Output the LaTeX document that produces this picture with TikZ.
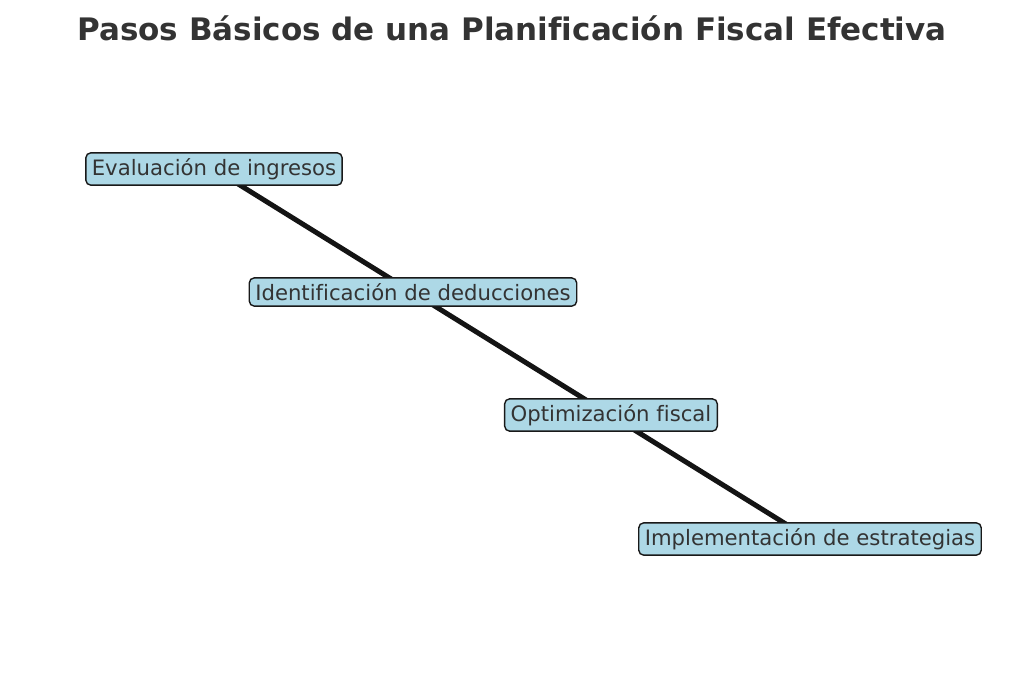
\documentclass[tikz,border=0pt]{standalone}
\usepackage{fontspec}
\setmainfont[Ligatures={NoCommon}]{DejaVu Sans}
\definecolor{lb}{RGB}{173,216,230}
\definecolor{tx}{RGB}{51,51,51}
\begin{document}
\begin{tikzpicture}[x=1pt,y=-1pt,
  stepbox/.style={draw=black!90,line width=1.4pt,fill=lb,rounded corners=5pt,text=tx,font=\fontsize{21.2}{25}\selectfont,inner xsep=6pt,inner ysep=5.5pt}]
\useasboundingbox (0,0) rectangle (1024,685);
\node[font=\bfseries\fontsize{31}{36}\selectfont,text=tx] (t) at (512,28) {Pasos Básicos de una Planificación Fiscal Efectiva};
\coordinate (a) at (214,169);
\coordinate (d) at (810,539);
\draw[line width=5pt,black!92] (a) -- (d);
\node[stepbox] (n1) at (214,169) {Evaluación de ingresos};
\node[stepbox] (n2) at (413,292) {Identificación de deducciones};
\node[stepbox] (n3) at (611,415) {Optimización fiscal};
\node[stepbox] (n4) at (810,539) {Implementación de estrategias};
\end{tikzpicture}
\end{document}
